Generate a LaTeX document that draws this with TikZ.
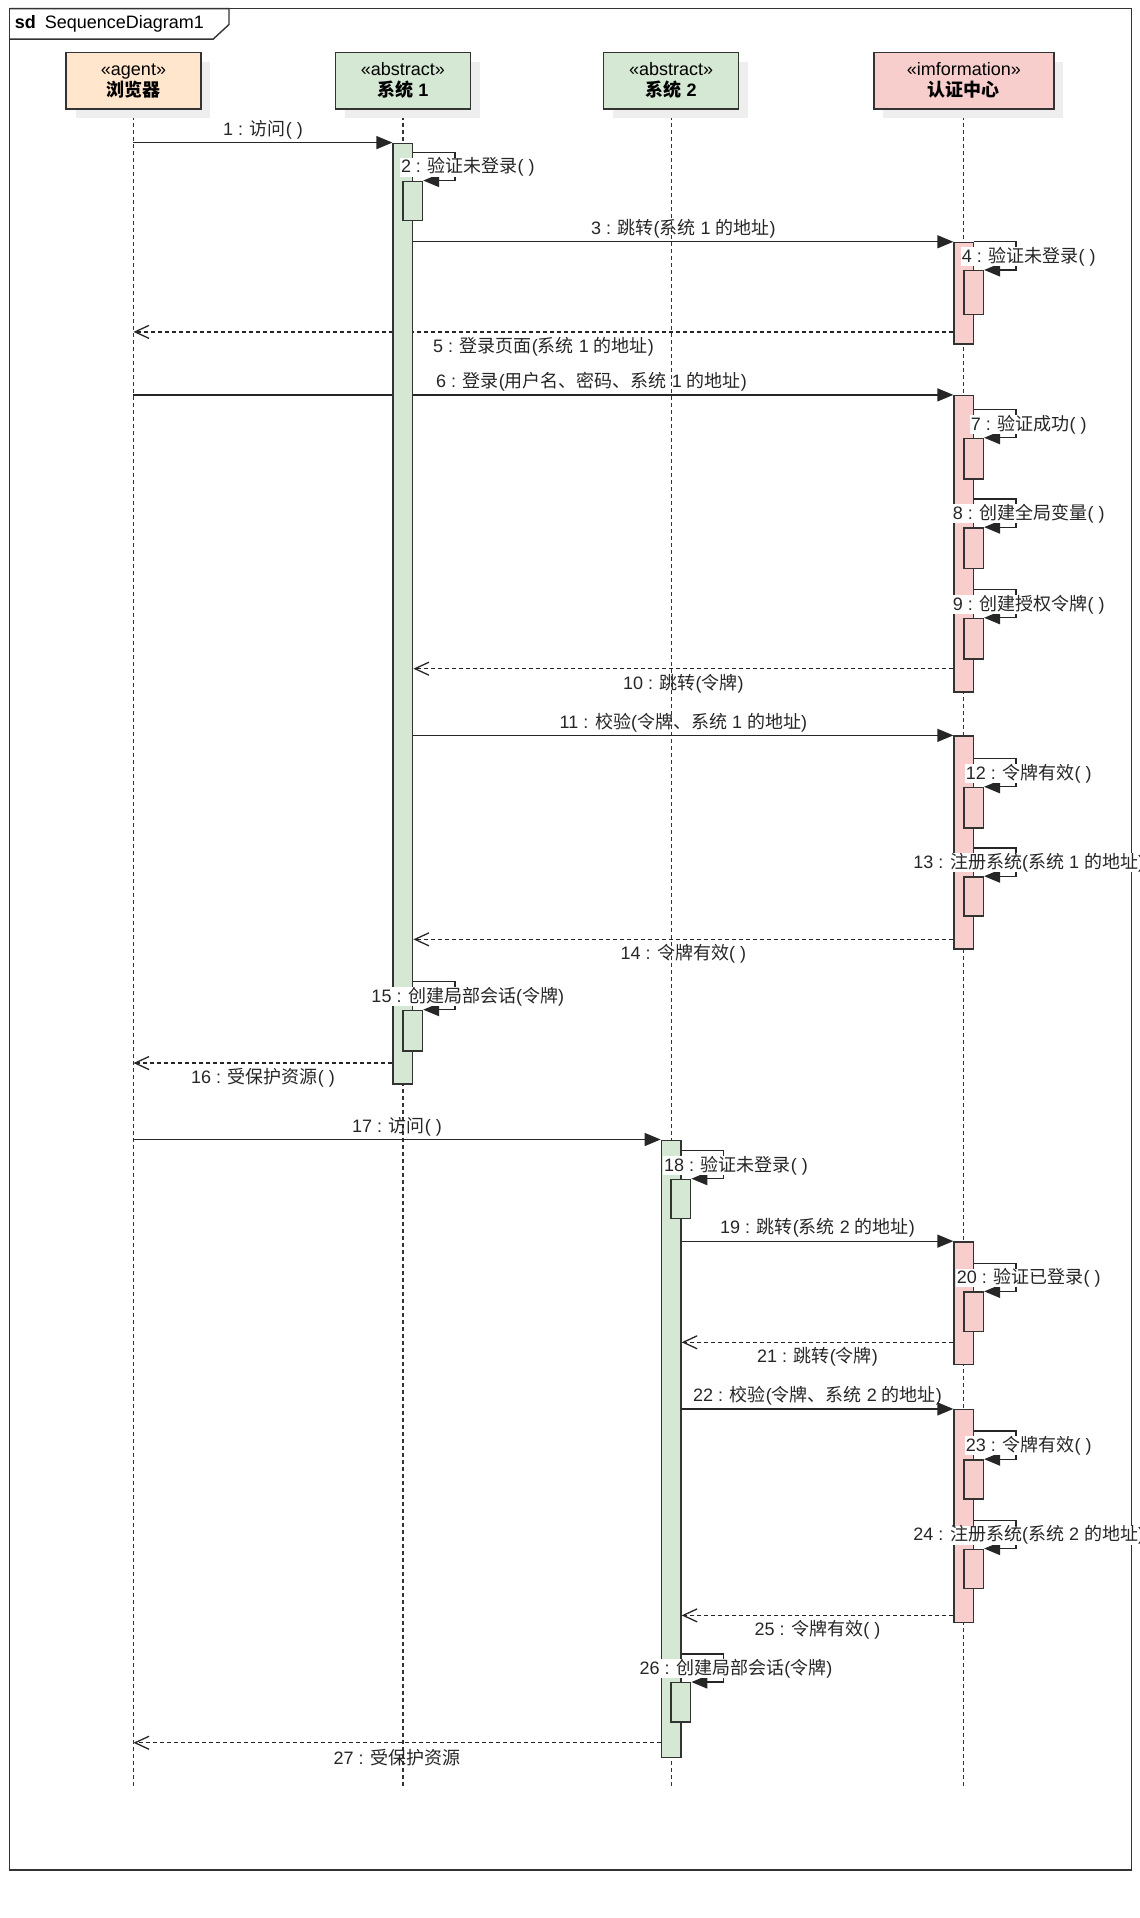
\documentclass[tikz,border=0pt]{standalone}
\usepackage{fontspec}
\setmainfont{Liberation Sans}
\newfontfamily\cjk{Noto Sans CJK SC}
\newcommand{\zh}[1]{{\cjk #1}}
\usetikzlibrary{arrows.meta,fit,calc,shadows}
\pgfdeclarelayer{back}
\pgfsetlayers{back,main}

\definecolor{agentfill}{HTML}{FFE6CC}
\definecolor{absfill}{HTML}{D5E8D4}
\definecolor{infofill}{HTML}{F8CECC}
\definecolor{linegray}{HTML}{333333}
\definecolor{shadowgray}{HTML}{EEEEEE}

\tikzset{
  lifehead/.style={draw=linegray, line width=1.4pt, minimum width=134.7pt,
    minimum height=56.3pt, align=center, font=\fontsize{18}{21}\selectfont,
    drop shadow={shadow xshift=9.5pt, shadow yshift=-9.5pt, fill=shadowgray, opacity=1}},
  lifeline/.style={draw=linegray, line width=1.2pt, dash pattern=on 4pt off 3pt},
  actbar/.style={draw=linegray, line width=1.4pt, inner sep=0pt},
  call/.style={draw=black!85, line width=1.3pt, -{Triangle[length=16pt,width=13pt]}},
  reply/.style={draw=black!85, line width=1.3pt, dash pattern=on 4pt off 3pt,
    -{Straight Barb[length=14pt,width=13pt]}},
  msglbl/.style={font=\fontsize{18}{21}\selectfont, inner sep=0pt, text=black!85},
  upper/.style={msglbl, midway, yshift=13pt},
  lower/.style={msglbl, midway, yshift=-14.7pt},
  selflbl/.style={msglbl, fill=white, inner xsep=1pt},
}

\begin{document}
\begin{tikzpicture}[x=1.2247pt, y=-1.2247pt]
\useasboundingbox (0,0) rectangle (930.03,1566.1);

% frame
\draw[draw=linegray, line width=1.4pt] (8,7) rectangle (924,1527);
\draw[draw=linegray, line width=1.4pt] (8,7) -- (187,7) -- (187,20) -- (174,32) -- (8,32);
\node[msglbl, anchor=west, text=black] (title) at (12,19.5) {\textbf{sd}\hspace{4pt} SequenceDiagram1};

% lifelines
\coordinate (browserend) at (109,1460);
\coordinate (sys1end) at (329,1460);
\coordinate (sys2end) at (548,1460);
\coordinate (centerend) at (787,1460);
\begin{pgfonlayer}{back}
\draw[lifeline] (109,66) -- (browserend);
\draw[lifeline] (329,66) -- (sys1end);
\draw[lifeline] (548,66) -- (sys2end);
\draw[lifeline] (787,66) -- (centerend);
\end{pgfonlayer}

\node[lifehead, fill=agentfill] (browser) at (109,66) {«agent»\\\textbf{\zh{浏览器}}};
\node[lifehead, fill=absfill] (sys1) at (329,66) {«abstract»\\\textbf{\zh{系统} 1}};
\node[lifehead, fill=absfill] (sys2) at (548,66) {«abstract»\\\textbf{\zh{系统} 2}};
\node[lifehead, fill=infofill, minimum width=180pt] (center) at (787,66) {«imformation»\\\textbf{\zh{认证中心}}};

% activations
\node[actbar, fill=absfill, fit={(321,117)(337,885)}] (s1act) {};
\node[actbar, fill=absfill, fit={(540,931)(556,1435)}] (s2act) {};
\node[actbar, fill=infofill, fit={(779,198)(795,281)}] (cact3) {};
\node[actbar, fill=infofill, fit={(779,323)(795,565)}] (cact6) {};
\node[actbar, fill=infofill, fit={(779,601)(795,775)}] (cact11) {};
\node[actbar, fill=infofill, fit={(779,1014)(795,1114)}] (cact19) {};
\node[actbar, fill=infofill, fit={(779,1151)(795,1325)}] (cact22) {};

% messages
\coordinate (y5) at (0,271);
\coordinate (y10) at (0,546);
\coordinate (y14) at (0,767);
\coordinate (y16) at (0,868);
\coordinate (y21) at (0,1096);
\coordinate (y25) at (0,1319);
\coordinate (y27) at (0,1423);
\begin{pgfonlayer}{back}
\draw[call] (browser.south |- s1act.north) -- (s1act.north west) node[upper] {1 : \zh{访问}( )};
\draw[call] (s1act.east |- cact3.north) -- (cact3.north west) node[upper] {3 : \zh{跳转}(\zh{系统} 1 \zh{的地址})};
\draw[reply] (cact3.west |- y5) -- (browser.south |- y5) node[lower] {5 : \zh{登录页面}(\zh{系统} 1 \zh{的地址})};
\draw[call] (browser.south |- cact6.north) -- (cact6.north west) node[upper, xshift=48pt] {6 : \zh{登录}(\zh{用户名、密码、系统} 1 \zh{的地址})};
\draw[reply] (cact6.west |- y10) -- (s1act.east |- y10) node[lower] {10 : \zh{跳转}(\zh{令牌})};
\draw[call] (s1act.east |- cact11.north) -- (cact11.north west) node[upper] {11 : \zh{校验}(\zh{令牌、系统} 1 \zh{的地址})};
\draw[reply] (cact11.west |- y14) -- (s1act.east |- y14) node[lower] {14 : \zh{令牌有效}( )};
\draw[reply] (s1act.west |- y16) -- (browser.south |- y16) node[lower] {16 : \zh{受保护资源}( )};
\draw[call] (browser.south |- s2act.north) -- (s2act.north west) node[upper] {17 : \zh{访问}( )};
\draw[call] (s2act.east |- cact19.north) -- (cact19.north west) node[upper] {19 : \zh{跳转}(\zh{系统} 2 \zh{的地址})};
\draw[reply] (cact19.west |- y21) -- (s2act.east |- y21) node[lower] {21 : \zh{跳转}(\zh{令牌})};
\draw[call] (s2act.east |- cact22.north) -- (cact22.north west) node[upper] {22 : \zh{校验}(\zh{令牌、系统} 2 \zh{的地址})};
\draw[reply] (cact22.west |- y25) -- (s2act.east |- y25) node[lower] {25 : \zh{令牌有效}( )};
\draw[reply] (s2act.west |- y27) -- (browser.south |- y27) node[lower] {27 : \zh{受保护资源}};
\end{pgfonlayer}

% self calls
\foreach \nm/\up/\lx/\ytop/\ybot/\fl/\txt in {
  s1n2/s1act/329/148/180/absfill/{2 : \zh{验证未登录}( )},
  cn4/cact3/787/221/257/infofill/{4 : \zh{验证未登录}( )},
  cn7/cact6/787/358/391/infofill/{7 : \zh{验证成功}( )},
  cn8/cact6/787/431/464/infofill/{8 : \zh{创建全局变量}( )},
  cn9/cact6/787/505/538/infofill/{9 : \zh{创建授权令牌}( )},
  cn12/cact11/787/643/676/infofill/{12 : \zh{令牌有效}( )},
  cn13/cact11/787/716/748/infofill/{13 : \zh{注册系统}(\zh{系统} 1 \zh{的地址})},
  s1n15/s1act/329/825/858/absfill/{15 : \zh{创建局部会话}(\zh{令牌})},
  s2n18/s2act/548/963/995/absfill/{18 : \zh{验证未登录}( )},
  cn20/cact19/787/1055/1087/infofill/{20 : \zh{验证已登录}( )},
  cn23/cact22/787/1192/1224/infofill/{23 : \zh{令牌有效}( )},
  cn24/cact22/787/1265/1297/infofill/{24 : \zh{注册系统}(\zh{系统} 2 \zh{的地址})},
  s2n26/s2act/548/1374/1406/absfill/{26 : \zh{创建局部会话}(\zh{令牌})}}{
  \node[actbar, fill=\fl, fit={(\lx,\ytop)(\lx+16,\ybot)}] (\nm) {};
  \draw[call] ($(\up.east |- \nm.north)+(0,-23)$) -- ++(34,0) |- (\nm.north east);
  \node[selflbl] (\nm lbl) at (\lx+53,\ytop-11.5) {\txt};
}

\end{tikzpicture}
\end{document}
